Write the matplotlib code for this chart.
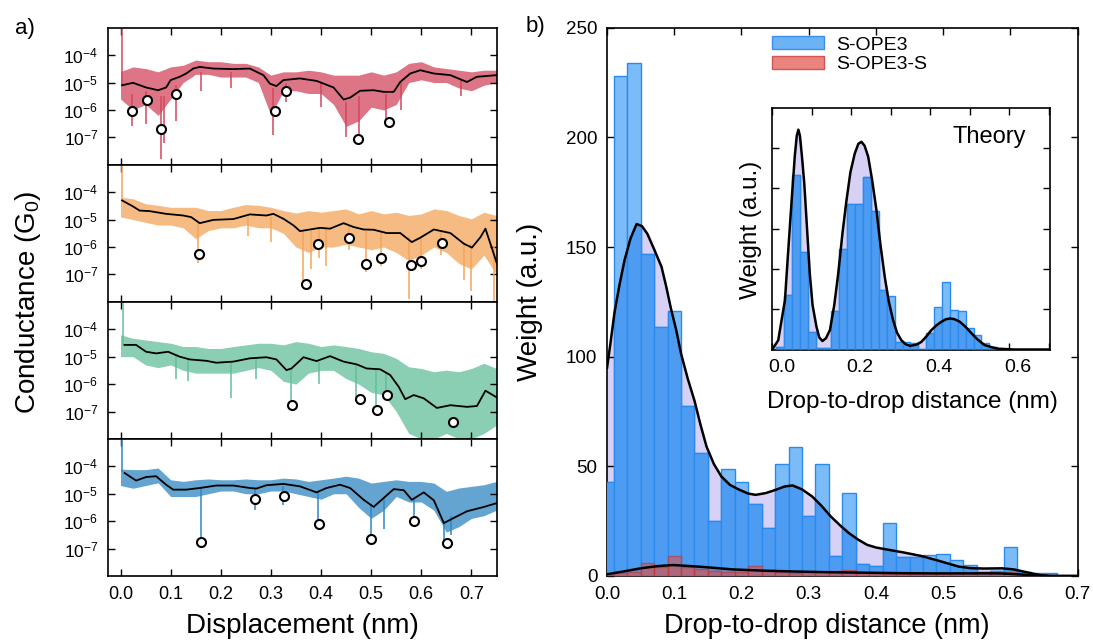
import matplotlib
matplotlib.use('Agg')
import matplotlib.pyplot as plt
import matplotlib.transforms as mtransforms
from matplotlib.patches import Patch
from matplotlib.ticker import FixedLocator, NullLocator
import numpy as np

plt.rcParams['font.family'] = ['Liberation Sans', 'DejaVu Sans']
plt.rcParams['mathtext.fontset'] = 'custom'
plt.rcParams['mathtext.rm'] = 'Liberation Sans'
plt.rcParams['mathtext.it'] = 'Liberation Sans:italic'
plt.rcParams['mathtext.bf'] = 'Liberation Sans:bold'

# ---------------- panel a: conductance traces (log10 G/G0) ----------------
grid = [0.000, 0.025, 0.050, 0.075, 0.100, 0.125, 0.150, 0.175, 0.200, 0.225,
        0.250, 0.275, 0.300, 0.325, 0.350, 0.375, 0.400, 0.425, 0.450, 0.475,
        0.500, 0.525, 0.550, 0.575, 0.600, 0.625, 0.650, 0.675, 0.700, 0.725, 0.750]

# trace 1 (red)
red_sx = [0.003, 0.025, 0.051, 0.075, 0.091, 0.100, 0.118, 0.131, 0.145, 0.158, 0.185, 0.225,
          0.258, 0.285, 0.298, 0.311, 0.325, 0.358, 0.391, 0.425, 0.445, 0.458, 0.478, 0.505,
          0.525, 0.545, 0.558, 0.578, 0.598, 0.625, 0.658, 0.691, 0.711, 0.751]
red_sy = [-5.10, -5.01, -5.18, -5.28, -5.18, -4.91, -4.79, -4.67, -4.49, -4.43, -4.49, -4.51,
          -4.49, -4.73, -5.04, -5.13, -4.91, -4.85, -4.94, -5.18, -5.62, -5.55, -5.30, -5.28,
          -5.34, -5.34, -4.98, -4.67, -4.55, -4.67, -4.73, -4.98, -4.79, -4.73]
red_hi = [-4.60, -4.43, -4.49, -4.61, -4.43, -4.37, -4.18, -4.24, -4.24, -4.30, -4.30, -4.43,
          -4.73, -4.61, -4.61, -4.55, -4.61, -4.73, -4.73, -4.73, -4.61, -4.73, -4.61, -4.30,
          -4.24, -4.43, -4.49, -4.55, -4.61, -4.55, -4.55]
red_lo = [-5.6, -6.0, -5.8, -6.2, -5.6, -5.0, -4.7, -4.7, -4.8, -4.8, -4.8, -5.0, -6.2, -5.3,
          -5.3, -5.4, -5.4, -5.8, -6.6, -6.4, -5.9, -6.0, -5.8, -5.0, -4.9, -5.0, -5.0, -5.2,
          -5.3, -5.1, -5.0]
red_spk = [(0.002, -5.1, -3.0), (0.022, -5.4, -6.6), (0.050, -5.3, -6.5), (0.080, -5.5, -7.8),
           (0.086, -5.5, -7.2), (0.110, -5.1, -6.4), (0.160, -4.6, -5.3), (0.220, -4.6, -5.2),
           (0.305, -5.2, -6.9), (0.330, -5.0, -5.7), (0.400, -5.0, -5.9), (0.450, -5.7, -7.0),
           (0.475, -5.5, -7.2), (0.530, -5.4, -6.6), (0.560, -5.0, -6.0), (0.680, -4.9, -5.5)]
red_dx = [0.023, 0.052, 0.081, 0.111, 0.308, 0.330, 0.473, 0.536]
red_dy = [-6.04, -5.62, -6.71, -5.40, -6.05, -5.32, -7.05, -6.44]

# trace 2 (orange)
or_sx = [0.003, 0.025, 0.038, 0.058, 0.091, 0.125, 0.141, 0.158, 0.185, 0.225, 0.258, 0.291,
         0.305, 0.325, 0.345, 0.358, 0.378, 0.398, 0.418, 0.445, 0.465, 0.485, 0.505, 0.531,
         0.558, 0.581, 0.598, 0.625, 0.658, 0.685, 0.701, 0.718, 0.728, 0.751]
or_sy = [-4.30, -4.52, -4.67, -4.69, -4.79, -4.85, -4.91, -5.13, -5.01, -4.98, -4.81, -4.85,
         -4.79, -4.97, -5.21, -5.42, -5.36, -5.30, -5.33, -5.13, -5.27, -5.36, -5.37, -5.49,
         -5.49, -5.82, -5.66, -5.36, -5.49, -5.88, -6.02, -5.64, -5.33, -6.61]
or_hi = [-4.18, -4.24, -4.42, -4.48, -4.55, -4.55, -4.55, -4.67, -4.67, -4.55, -4.45, -4.48,
         -4.55, -4.67, -4.76, -4.67, -4.73, -4.67, -4.61, -4.79, -4.67, -4.79, -4.73, -4.85,
         -4.79, -4.61, -4.67, -4.85, -4.97, -4.73, -4.85]
or_lo = [-4.9, -5.0, -5.1, -5.2, -5.2, -5.3, -5.7, -5.4, -5.3, -5.3, -5.2, -5.3, -5.3, -5.5,
         -6.0, -6.2, -6.0, -6.0, -5.9, -6.0, -6.1, -6.0, -6.2, -6.5, -6.3, -6.0, -6.2, -6.6,
         -6.8, -6.3, -7.0]
or_spk = [(0.002, -4.3, -3.0), (0.155, -5.1, -6.6), (0.255, -4.9, -5.6), (0.300, -4.9, -5.8),
          (0.365, -5.4, -7.3), (0.380, -5.4, -6.8), (0.395, -5.3, -6.4), (0.410, -5.3, -6.7),
          (0.455, -5.2, -6.1), (0.490, -5.4, -6.9), (0.520, -5.4, -6.7), (0.575, -5.6, -7.9),
          (0.600, -5.6, -6.8), (0.640, -5.4, -6.3), (0.685, -5.8, -7.2), (0.700, -5.9, -7.6),
          (0.745, -6.0, -8.0)]
or_dx = [0.157, 0.370, 0.393, 0.456, 0.489, 0.520, 0.579, 0.600, 0.641]
or_dy = [-6.25, -7.36, -5.90, -5.66, -6.61, -6.39, -6.67, -6.51, -5.85]

# trace 3 (green)
gr_sx = [0.008, 0.031, 0.051, 0.071, 0.095, 0.118, 0.138, 0.171, 0.191, 0.225, 0.258, 0.291,
         0.311, 0.331, 0.341, 0.365, 0.391, 0.418, 0.445, 0.471, 0.491, 0.518, 0.538, 0.555,
         0.568, 0.585, 0.605, 0.631, 0.658, 0.691, 0.711, 0.728, 0.751]
gr_sy = [-4.57, -4.57, -4.82, -4.88, -4.82, -5.00, -5.10, -5.15, -5.22, -5.18, -5.06, -5.02,
         -5.10, -5.49, -5.43, -5.02, -5.16, -4.98, -5.18, -5.28, -5.43, -5.46, -5.67, -6.10,
         -6.55, -6.40, -6.52, -6.87, -6.77, -6.83, -6.80, -6.24, -6.49]
gr_hi = [-4.20, -4.33, -4.39, -4.45, -4.51, -4.63, -4.63, -4.70, -4.70, -4.63, -4.57, -4.51,
         -4.51, -4.57, -4.45, -4.51, -4.63, -4.57, -4.63, -4.70, -4.82, -4.88, -5.06, -5.37,
         -5.43, -5.55, -5.49, -5.55, -5.43, -5.24, -5.43]
gr_lo = [-5.0, -5.0, -5.3, -5.4, -5.3, -5.5, -5.6, -5.6, -5.6, -5.6, -5.5, -5.4, -5.5, -5.9,
         -6.0, -5.6, -5.5, -5.5, -5.8, -6.0, -6.3, -6.4, -7.0, -7.8, -8.0, -8.0, -7.8, -8.0,
         -8.0, -7.8, -7.5]
gr_spk = [(0.005, -4.6, -3.0), (0.110, -4.9, -5.8), (0.135, -5.1, -5.9), (0.220, -5.2, -6.5),
          (0.270, -5.1, -5.8), (0.340, -5.4, -6.6), (0.395, -5.2, -6.0), (0.470, -5.3, -6.5),
          (0.510, -5.4, -7.0), (0.530, -5.6, -6.5)]
gr_dx = [0.343, 0.477, 0.511, 0.531, 0.663]
gr_dy = [-6.77, -6.56, -6.95, -6.38, -7.38]

# trace 4 (blue)
bl_sx = [0.008, 0.031, 0.051, 0.071, 0.091, 0.105, 0.131, 0.158, 0.191, 0.225, 0.258, 0.271,
         0.291, 0.325, 0.358, 0.391, 0.411, 0.438, 0.458, 0.485, 0.505, 0.521, 0.545, 0.565,
         0.581, 0.605, 0.625, 0.645, 0.665, 0.691, 0.725, 0.751]
bl_sy = [-4.24, -4.52, -4.39, -4.36, -4.67, -4.85, -4.85, -4.79, -4.70, -4.70, -4.79, -4.81,
         -4.69, -4.64, -4.73, -4.95, -4.79, -4.67, -4.79, -5.22, -5.48, -5.22, -4.83, -4.87,
         -5.22, -4.95, -5.24, -6.07, -5.88, -5.64, -5.48, -5.34]
bl_hi = [-4.10, -4.12, -4.12, -4.06, -4.49, -4.55, -4.49, -4.46, -4.49, -4.49, -4.46, -4.49,
         -4.49, -4.43, -4.46, -4.55, -4.49, -4.43, -4.36, -4.43, -4.61, -4.55, -4.49, -4.55,
         -4.55, -4.61, -4.91, -4.79, -4.73, -4.67, -4.55]
bl_lo = [-4.7, -4.8, -4.7, -4.6, -5.1, -5.1, -5.1, -5.0, -4.9, -4.9, -5.0, -5.0, -4.9, -4.9,
         -5.0, -5.1, -5.2, -5.0, -5.0, -5.5, -5.9, -5.6, -5.1, -5.3, -5.3, -5.6, -6.4, -6.2,
         -5.9, -5.8, -5.6]
bl_spk = [(0.002, -4.2, -3.0), (0.160, -4.8, -6.6), (0.268, -4.8, -5.6), (0.325, -4.7, -5.4),
          (0.393, -4.9, -6.0), (0.500, -5.4, -6.7), (0.525, -5.2, -6.3), (0.585, -5.2, -5.9),
          (0.645, -6.0, -6.9), (0.660, -5.8, -6.5)]
bl_dx = [0.161, 0.269, 0.326, 0.395, 0.499, 0.585, 0.651]
bl_dy = [-6.76, -5.19, -5.07, -6.10, -6.64, -5.98, -6.81]

trace_colors = ['#d2475d', '#f4a55a', '#63bf9b', '#2f86c2']

# ---------------- panel b: drop-to-drop histograms ----------------
bin_centers = [0.00, 0.02, 0.04, 0.06, 0.08, 0.10, 0.12, 0.14, 0.16, 0.18, 0.20, 0.22, 0.24,
               0.26, 0.28, 0.30, 0.32, 0.34, 0.36, 0.38, 0.40, 0.42, 0.44, 0.46, 0.48, 0.50,
               0.52, 0.54, 0.56, 0.58, 0.60, 0.62, 0.64, 0.66]
ope3_w = [43, 228, 234, 147, 113.5, 121, 77.5, 56, 25, 49, 43, 33, 22, 51, 59, 27.5, 51, 9,
          38, 5.3, 4.7, 24, 8.5, 8.5, 9.6, 10, 7.3, 5, 2, 2.4, 13, 2, 1.2, 1.2]
ope3s_w = [0.5, 1.2, 2.0, 6.1, 4.3, 9.1, 4.2, 3.0, 2.4, 2.0, 2.0, 4.6, 2.7, 2.0, 1.5, 1.7,
           2.0, 2.3, 2.7, 1.5, 1.2, 1.0, 1.0, 1.0, 1.0, 0.8, 0.8, 0.8, 2.0, 0.8, 2.0, 0.5,
           0.0, 0.0]
kde_x = [0.000, 0.005, 0.011, 0.018, 0.026, 0.035, 0.044, 0.052, 0.060, 0.070, 0.081, 0.088,
         0.095, 0.103, 0.110, 0.120, 0.130, 0.139, 0.148, 0.159, 0.170, 0.183, 0.197, 0.210,
         0.221, 0.236, 0.251, 0.264, 0.276, 0.290, 0.305, 0.319, 0.333, 0.347, 0.360, 0.374,
         0.387, 0.400, 0.414, 0.440, 0.468, 0.495, 0.523, 0.540, 0.560, 0.588, 0.605, 0.620,
         0.635, 0.647, 0.660, 0.700]
kde_y = [95, 106, 120, 132, 144, 154, 160.5, 159.5, 156, 149, 141, 132, 122, 112, 101.5, 90,
         80, 69, 59, 51, 45.4, 41.5, 39.3, 37.6, 37, 37.8, 39.3, 40.8, 41.3, 39.5, 36.3, 32,
         27.1, 23, 19.5, 16.5, 14.2, 13, 12.2, 10.8, 9.1, 6.8, 4.3, 3.6, 3.4, 3.5, 3.0, 2.0,
         1.0, 0.3, 0.0, 0.0]
kde_s_x = [0.0, 0.025, 0.05, 0.075, 0.098, 0.14, 0.187, 0.235, 0.286, 0.335, 0.385, 0.435,
           0.484, 0.535, 0.583, 0.610, 0.630, 0.660, 0.700]
kde_s_y = [0.8, 2.1, 3.5, 4.5, 5.0, 4.2, 3.0, 2.4, 2.0, 1.7, 1.5, 1.3, 1.2, 1.2, 1.2, 0.8,
           0.4, 0.0, 0.0]

# inset (theory)
th_centers = [0.02, 0.04, 0.06, 0.08, 0.10, 0.12, 0.14, 0.16, 0.18, 0.20, 0.22, 0.24, 0.26,
              0.28, 0.30, 0.32, 0.34, 0.36, 0.38, 0.40, 0.42, 0.44, 0.46, 0.48, 0.50, 0.52,
              0.54, 0.56]
th_w = [0.07, 1.35, 4.32, 2.42, 0.44, 0.03, 0.03, 0.96, 2.49, 3.62, 3.62, 4.28, 3.44, 1.47,
        1.33, 0.19, 0.19, 0.15, 0.02, 0.40, 1.06, 1.68, 0.98, 0.96, 0.54, 0.36, 0.17, 0.05]
th_kx = [0.000, 0.015, 0.032, 0.040, 0.049, 0.057, 0.062, 0.066, 0.070, 0.075, 0.081, 0.088,
         0.095, 0.102, 0.112, 0.119, 0.127, 0.136, 0.146, 0.157, 0.167, 0.178, 0.188, 0.198,
         0.209, 0.218, 0.226, 0.234, 0.243, 0.253, 0.264, 0.274, 0.285, 0.295, 0.306, 0.316,
         0.327, 0.338, 0.349, 0.365, 0.378, 0.390, 0.403, 0.416, 0.429, 0.440, 0.451, 0.462,
         0.475, 0.490, 0.505, 0.520, 0.538, 0.555, 0.572, 0.614, 0.700]
th_ky = [0.0, 0.23, 1.22, 2.4, 3.70, 4.8, 5.3, 5.45, 5.3, 4.8, 4.12, 3.0, 1.88, 1.1, 0.56,
         0.3, 0.21, 0.28, 0.48, 1.1, 1.88, 2.9, 3.70, 4.4, 4.86, 5.1, 5.15, 5.05, 4.78, 4.2,
         3.45, 2.6, 1.80, 1.2, 0.73, 0.42, 0.23, 0.13, 0.09, 0.12, 0.19, 0.32, 0.48, 0.6, 0.69,
         0.75, 0.77, 0.75, 0.69, 0.56, 0.40, 0.25, 0.11, 0.06, 0.02, 0.0, 0.0]

LIGHT_BLUE = '#7bbcf8'
DARK_BLUE = '#4d9cf2'
EDGE_BLUE = '#2a8bee'
LAVENDER = '#d7d2f5'


def style_axes(ax, labelsize):
    ax.tick_params(direction='in', top=True, right=True, length=5, width=1,
                   labelsize=labelsize, pad=7)
    for s in ax.spines.values():
        s.set_linewidth(1.2)


def hist_with_kde(ax, centers, weights, kx, ky):
    kde_fill = ax.fill_between(kx, ky, color=LAVENDER, lw=0, zorder=1)
    ax.bar(centers, weights, width=0.02, color=LIGHT_BLUE, edgecolor=EDGE_BLUE,
           lw=1, zorder=2)
    dark = ax.bar(centers, weights, width=0.02, color=DARK_BLUE, edgecolor=EDGE_BLUE,
                  lw=1, zorder=3)
    clip = kde_fill.get_paths()[0]
    for p in dark:
        p.set_clip_path(clip, ax.transData)
    ax.plot(kx, ky, color='black', lw=1.8, zorder=6)


fig = plt.figure(figsize=(10.93, 6.4), dpi=100)

# ---- panel a ----
traces = [
    (red_sx, red_sy, red_hi, red_lo, red_spk, red_dx, red_dy),
    (or_sx, or_sy, or_hi, or_lo, or_spk, or_dx, or_dy),
    (gr_sx, gr_sy, gr_hi, gr_lo, gr_spk, gr_dx, gr_dy),
    (bl_sx, bl_sy, bl_hi, bl_lo, bl_spk, bl_dx, bl_dy),
]
top, bottom = 0.9567, 0.1
ph = (top - bottom) / 4
for i, (sx, sy, hi, lo, spk, dx, dy) in enumerate(traces):
    ax = fig.add_axes([0.0988, top - (i + 1) * ph, 0.3559, ph])
    c = trace_colors[i]
    ax.fill_between(grid, 10 ** np.array(lo), 10 ** np.array(hi), color=c, lw=0, alpha=0.75)
    xs = [s[0] for s in spk]
    ax.vlines(xs, [10 ** s[1] for s in spk], [10 ** s[2] for s in spk], color=c, lw=1.1)
    ax.plot(sx, 10 ** np.array(sy), color='black', lw=1.3)
    ax.plot(dx, 10 ** np.array(dy), 'o', mfc='white', mec='black', ms=6.5, mew=1.5)
    ax.set_yscale('log')
    ax.set_ylim(1e-8, 1e-3)
    ax.set_xlim(-0.025, 0.751)
    ax.yaxis.set_major_locator(FixedLocator([1e-7, 1e-6, 1e-5, 1e-4]))
    ax.yaxis.set_minor_locator(NullLocator())
    ax.set_yticklabels([r'$\mathregular{10^{-7}}$', r'$\mathregular{10^{-6}}$',
                        r'$\mathregular{10^{-5}}$', r'$\mathregular{10^{-4}}$'])
    ax.set_xticks([0.0, 0.1, 0.2, 0.3, 0.4, 0.5, 0.6, 0.7])
    style_axes(ax, 13)
    ax.tick_params(axis='y', labelsize=12.5)
    if i < 3:
        ax.tick_params(axis='x', labelbottom=False)
    else:
        ax.set_xticklabels(['0.0', '0.1', '0.2', '0.3', '0.4', '0.5', '0.6', '0.7'])

fig.text(0.0255, 0.528, 'Conductance (G$_\\mathregular{0}$)', rotation=90,
         ha='center', va='center', fontsize=20)
fig.text(0.277, 0.022, 'Displacement (nm)', ha='center', va='center', fontsize=20)
fig.text(0.0229, 0.956, 'a)', ha='center', va='center', fontsize=16)

# ---- panel b ----
axb = fig.add_axes([0.5554, 0.1, 0.4305, 0.8567])
hist_with_kde(axb, bin_centers, ope3_w, kde_x, kde_y)
axb.fill_between(kde_s_x, kde_s_y, color='#a0606c', alpha=0.35, lw=0, zorder=4)
axb.bar(bin_centers, ope3s_w, width=0.02, color='#d9544f', alpha=0.6,
        edgecolor='#c83030', lw=1, zorder=5)
axb.plot(kde_s_x, kde_s_y, color='black', lw=1.8, zorder=6)
axb.set_xlim(0, 0.7)
axb.set_ylim(0, 250)
axb.set_xticks([0.0, 0.1, 0.2, 0.3, 0.4, 0.5, 0.6, 0.7])
axb.set_yticks([0, 50, 100, 150, 200, 250])
style_axes(axb, 13.5)

handles = [Patch(facecolor='#6cb3f6', edgecolor='#3b8fe8', lw=1),
           Patch(facecolor='#ea847d', edgecolor='#d25555', lw=1)]
fig.legend(handles, ['S-OPE3', 'S-OPE3-S'], loc='upper left',
           bbox_to_anchor=(0.706, 0.943), bbox_transform=fig.transFigure,
           frameon=False, fontsize=14, handlelength=2.7, handleheight=0.6,
           handletextpad=0.6, labelspacing=0.15, borderpad=0, borderaxespad=0)

fig.text(0.485, 0.528, 'Weight (a.u.)', rotation=90, ha='center', va='center', fontsize=20)
fig.text(0.756, 0.022, 'Drop-to-drop distance (nm)', ha='center', va='center', fontsize=19.5)
fig.text(0.4895, 0.959, 'b)', ha='center', va='center', fontsize=16)

# ---- inset ----
axi = fig.add_axes([0.7066, 0.4539, 0.2545, 0.3781])
hist_with_kde(axi, th_centers, th_w, th_kx, th_ky)
axi.set_xlim(0, 0.705)
axi.set_ylim(0, 6)
axi.set_xticks([0.0, 0.1, 0.2, 0.3, 0.4, 0.5, 0.6, 0.7])
axi.set_xticklabels(['0.0', '', '0.2', '', '0.4', '', '0.6', ''])
axi.set_yticks([1, 2, 3, 4, 5])
style_axes(axi, 14)
axi.tick_params(axis='y', labelleft=False)
shift = mtransforms.ScaledTranslation(0.09, 0, fig.dpi_scale_trans)
for lab in axi.get_xticklabels():
    lab.set_transform(lab.get_transform() + shift)
axi.text(0.78, 0.88, 'Theory', transform=axi.transAxes, ha='center', va='center',
         fontsize=17)
fig.text(0.687, 0.6406, 'Weight (a.u.)', rotation=90, ha='center', va='center',
         fontsize=17.5)
fig.text(0.8346, 0.3724, 'Drop-to-drop distance (nm)', ha='center', va='center',
         fontsize=17.5)

fig.savefig('out.png', dpi=100)
